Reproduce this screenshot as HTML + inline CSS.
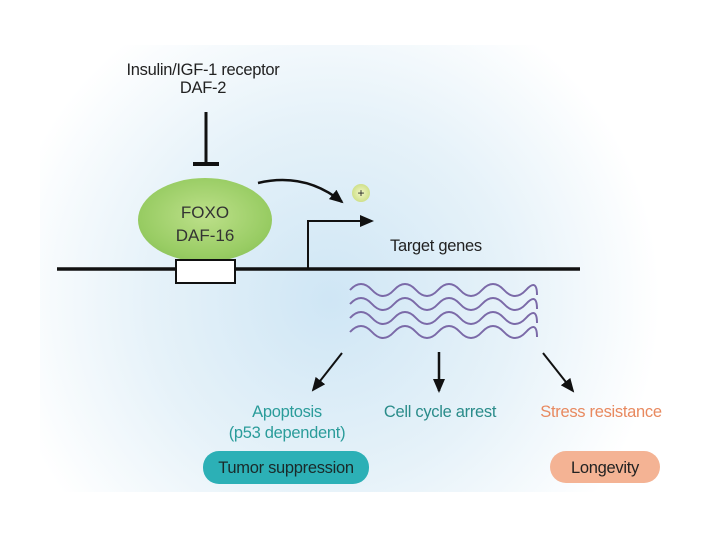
<!DOCTYPE html>
<html><head><style>
html,body{margin:0;padding:0;background:#fff;}
svg{display:block;font-family:"Liberation Sans",sans-serif;}
</style></head><body>
<svg width="720" height="540" viewBox="0 0 720 540" xmlns="http://www.w3.org/2000/svg">
<defs>
<radialGradient id="bg" cx="330" cy="300" r="330" gradientUnits="userSpaceOnUse">
<stop offset="0" stop-color="#cfe6f5"/>
<stop offset="0.55" stop-color="#e6f2f9"/>
<stop offset="1" stop-color="#ffffff"/>
</radialGradient>
<radialGradient id="eg" cx="0.5" cy="0.45" r="0.6">
<stop offset="0" stop-color="#bde08a"/>
<stop offset="0.8" stop-color="#98cc63"/>
<stop offset="1" stop-color="#8cc25a"/>
</radialGradient>
<radialGradient id="pg" cx="0.5" cy="0.5" r="0.5">
<stop offset="0" stop-color="#f2f7c6"/>
<stop offset="1" stop-color="#cfe08a"/>
</radialGradient>
<marker id="ah2" markerWidth="14" markerHeight="12" refX="12" refY="6" orient="auto" markerUnits="userSpaceOnUse">
<path d="M0,0 L14,6 L0,12 Z" fill="#111"/>
</marker>
</defs>
<rect x="40" y="45" width="640" height="447" fill="url(#bg)"/>
<g letter-spacing="-0.3">
<text x="203" y="75" font-size="16.5" text-anchor="middle" fill="#222">Insulin/IGF-1 receptor</text>
<text x="203" y="93" font-size="16.5" text-anchor="middle" fill="#222">DAF-2</text>
</g>
<line x1="206" y1="112" x2="206" y2="163" stroke="#111" stroke-width="3"/>
<line x1="193" y1="164" x2="219" y2="164" stroke="#111" stroke-width="4"/>
<ellipse cx="205" cy="220" rx="67" ry="42" fill="url(#eg)"/>
<text x="205" y="218" font-size="17" text-anchor="middle" fill="#333">FOXO</text>
<text x="205" y="241" font-size="17" text-anchor="middle" fill="#333">DAF-16</text>
<path d="M258,183 Q305,172 342,202" fill="none" stroke="#111" stroke-width="2.5" marker-end="url(#ah2)"/>
<circle cx="361" cy="193" r="9" fill="url(#pg)"/>
<text x="361" y="197" font-size="12" text-anchor="middle" fill="#222">+</text>
<line x1="57" y1="269" x2="580" y2="269" stroke="#111" stroke-width="3.5"/>
<rect x="176" y="260" width="59" height="23" fill="#fff" stroke="#111" stroke-width="2"/>
<path d="M308,269 V221 H362" fill="none" stroke="#111" stroke-width="2"/>
<path d="M360,215 L374,221 L360,227 Z" fill="#111"/>
<text x="390" y="251" font-size="16.5" fill="#222" letter-spacing="-0.3">Target genes</text>
<g fill="none" stroke="#7b6aa8" stroke-width="2">
<path id="w" d="M350,290 q11,-12 22,0 t22,0 t22,0 t22,0 t22,0 t22,0 t22,0 t22,0 t11,5"/>
<use href="#w" y="14"/>
<use href="#w" y="28"/>
<use href="#w" y="42"/>
</g>
<line x1="342" y1="353" x2="313" y2="390" stroke="#111" stroke-width="2" marker-end="url(#ah2)"/>
<line x1="439" y1="352" x2="439" y2="391" stroke="#111" stroke-width="2.5" marker-end="url(#ah2)"/>
<line x1="543" y1="353" x2="573" y2="391" stroke="#111" stroke-width="2" marker-end="url(#ah2)"/>
<g font-size="16.5" text-anchor="middle" letter-spacing="-0.3">
<text x="287" y="417" fill="#2a9c9a">Apoptosis</text>
<text x="287" y="438" fill="#2a9c9a">(p53 dependent)</text>
<text x="440" y="417" fill="#2a8c8a">Cell cycle arrest</text>
<text x="601" y="417" fill="#e8895f">Stress resistance</text>
</g>
<rect x="203" y="451" width="166" height="33" rx="16" fill="#2cb0b6"/>
<text x="286" y="473" font-size="16.5" text-anchor="middle" fill="#1a2a2a" letter-spacing="-0.3">Tumor suppression</text>
<rect x="550" y="451" width="110" height="32" rx="16" fill="#f4b394"/>
<text x="605" y="473" font-size="16.5" text-anchor="middle" fill="#222" letter-spacing="-0.3">Longevity</text>
</svg>
</body></html>
